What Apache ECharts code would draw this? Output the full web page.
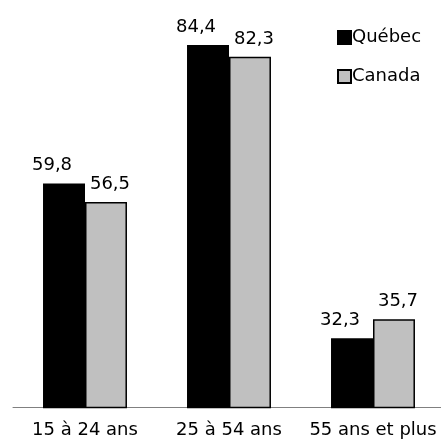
<!DOCTYPE html>
<html>
<head>
<meta charset="utf-8">
<script src="https://cdn.jsdelivr.net/npm/echarts@6/dist/echarts.min.js"></script>
<style>
html,body{margin:0;padding:0;background:#fff;}
#chart{width:441px;height:444px;}
</style>
</head>
<body>
<div id="chart"></div>
<script>
const categories = ['15 à 24 ans', '25 à 54 ans', '55 ans et plus'];
const quebec = [59.8, 84.4, 32.3];
const canada = [56.5, 82.3, 35.7];
const seriesNames = ['Québec', 'Canada'];

const FONT = 'DejaVu Sans';
const fmt = p => String(p.value).replace('.', ',');

const chart = echarts.init(document.getElementById('chart'));
chart.setOption({
  animation: false,
  backgroundColor: '#ffffff',
  grid: { left: 13, width: 432, top: 13.5, height: 394, containLabel: false, outerBoundsMode: 'none' },
  legend: {
    orient: 'vertical',
    left: 337, top: 28.5,
    padding: 0,
    itemWidth: 13, itemHeight: 13,
    itemGap: 21,
    icon: 'rect',
    textStyle: { fontFamily: FONT, fontSize: 18, color: '#000', lineHeight: 18, padding: [0, 0, 0, -4] },
    data: seriesNames
  },
  xAxis: {
    type: 'category',
    data: categories,
    axisLine: { lineStyle: { color: '#808080', width: 1 } },
    axisTick: { show: false },
    axisLabel: { interval: 0, fontFamily: FONT, fontSize: 18, color: '#000', margin: 14 }
  },
  yAxis: {
    type: 'value', min: 20, max: 90,
    show: false,
    splitLine: { show: false }
  },
  series: [
    {
      name: seriesNames[0], type: 'bar', data: quebec,
      barGap: '0%', barCategoryGap: '41.7%',
      itemStyle: { color: '#000000', borderColor: '#000', borderWidth: 1.5 },
      label: { show: true, position: 'top', distance: 9, offset: [-12, 0], formatter: fmt,
               fontFamily: FONT, fontSize: 18, color: '#000' }
    },
    {
      name: seriesNames[1], type: 'bar', data: canada,
      itemStyle: { color: '#c0c0c0', borderColor: '#000', borderWidth: 1.5 },
      label: { show: true, position: 'top', distance: 9, offset: [4, 0], formatter: fmt,
               fontFamily: FONT, fontSize: 18, color: '#000' }
    }
  ]
});
</script>
</body>
</html>
